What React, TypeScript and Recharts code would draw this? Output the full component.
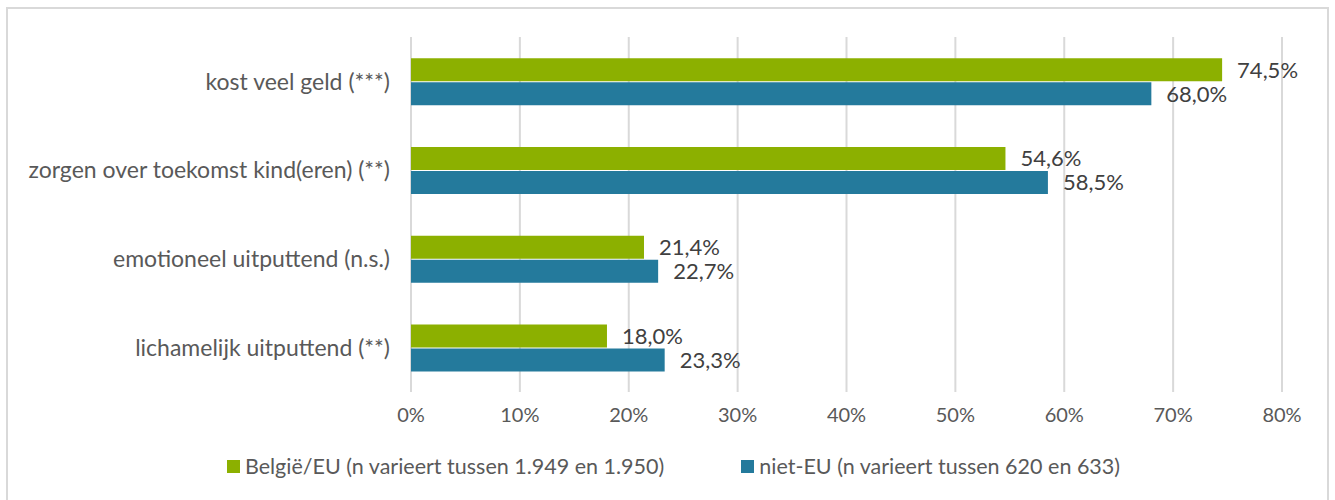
import React from 'react';
import { BarChart, Bar, XAxis, YAxis, CartesianGrid, LabelList } from 'recharts';

// Redenen (percentages) per herkomstgroep
const categories = [
  'kost veel geld (***)',
  'zorgen over toekomst kind(eren) (**)',
  'emotioneel uitputtend (n.s.)',
  'lichamelijk uitputtend (**)',
];
const belgieEU = [74.5, 54.6, 21.4, 18.0];
const nietEU = [68.0, 58.5, 22.7, 23.3];
const xTicks = [0, 10, 20, 30, 40, 50, 60, 70, 80];

const seriesLabels = {
  belgie: 'België/EU (n varieert tussen 1.949 en 1.950)',
  niet: 'niet-EU (n varieert tussen 620 en 633)',
};

const GREEN = '#8CB000';
const BLUE = '#247A9C';
const FONT = 'Lato, "Open Sans", sans-serif';

const data = categories.map((c, i) => ({ cat: c, belgie: belgieEU[i], niet: nietEU[i] }));

const pct = (v: unknown) => `${Number(v).toFixed(1).replace('.', ',')}%`;

export default function App() {
  return (
    <div style={{ position: 'absolute', left: 0, top: 0, width: 1335, height: 500, background: '#fff', fontFamily: FONT, overflow: 'hidden' }}>
      {/* chart frame */}
      <div style={{ position: 'absolute', left: 6, top: 7, width: 1323, height: 520, border: '2px solid #d9d9d9', boxSizing: 'border-box' }} />
      <div style={{ position: 'absolute', left: 0, top: 0 }}>
        <BarChart
          width={1335}
          height={500}
          data={data}
          layout="vertical"
          margin={{ top: 37, right: 53, left: 0, bottom: 78 }}
          barCategoryGap="24%"
          barGap={1}
        >
          <CartesianGrid horizontal={false} stroke="#d9d9d9" strokeWidth={2} />
          <XAxis
            type="number"
            domain={[0, 80]}
            ticks={xTicks}
            tickFormatter={(v) => `${v}%`}
            axisLine={false}
            tickLine={false}
            height={30}
            tickMargin={10}
            tick={{ fontSize: 20, fill: '#595959', fontFamily: FONT }}
          />
          <YAxis
            type="category"
            dataKey="cat"
            width={411}
            axisLine={false}
            tickLine={false}
            tickMargin={15}
            tick={{ fontSize: 23, fill: '#595959', fontFamily: FONT }}
          />
          <Bar dataKey="belgie" fill={GREEN} isAnimationActive={false}>
            <LabelList dataKey="belgie" position="right" offset={15} formatter={pct} style={{ fontSize: 22, fill: '#404040', fontFamily: FONT }} />
          </Bar>
          <Bar dataKey="niet" fill={BLUE} isAnimationActive={false}>
            <LabelList dataKey="niet" position="right" offset={15} formatter={pct} style={{ fontSize: 22, fill: '#404040', fontFamily: FONT }} />
          </Bar>
        </BarChart>
      </div>
      {/* legend */}
      <div style={{ position: 'absolute', top: 453, left: 6, width: 1335, display: 'flex', justifyContent: 'center', gap: 77, fontSize: 21.5, color: '#595959' }}>
        <div style={{ display: 'flex', alignItems: 'center' }}>
          <span style={{ width: 13, height: 13, background: GREEN, marginRight: 5, display: 'inline-block' }} />
          {seriesLabels.belgie}
        </div>
        <div style={{ display: 'flex', alignItems: 'center' }}>
          <span style={{ width: 13, height: 13, background: BLUE, marginRight: 5, display: 'inline-block' }} />
          {seriesLabels.niet}
        </div>
      </div>
    </div>
  );
}
